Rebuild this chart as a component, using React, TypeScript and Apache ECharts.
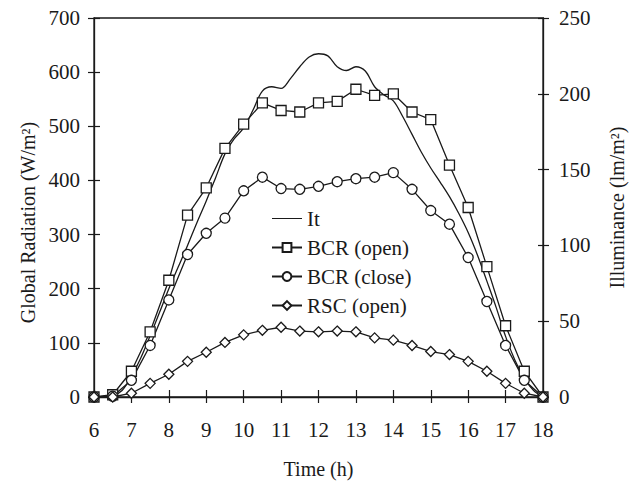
import React, { useEffect, useRef } from "react";
import * as echarts from "echarts";

// Time axis (h)
const halfHourTimes = [6, 6.5, 7, 7.5, 8, 8.5, 9, 9.5, 10, 10.5, 11, 11.5, 12, 12.5, 13, 13.5, 14, 14.5, 15, 15.5, 16, 16.5, 17, 17.5, 18];

// Illuminance series (lm/m2), right axis
const bcrOpen = [0, 1.5, 17, 43, 77, 120, 138, 164, 180, 194, 189, 188, 194, 195, 203, 199, 200, 188, 183, 153, 125, 86, 47, 17, 0];
const bcrClose = [0, 0.5, 11, 34, 64, 94, 108, 118, 136, 145, 137.5, 137, 139, 142, 144, 145, 148, 137, 123, 114, 92, 63, 34, 11, 0];
const rscOpen = [0, 0, 2.5, 9, 15, 23.5, 29.5, 36, 41, 44, 46, 43.5, 43, 43.5, 43, 39, 37.5, 34, 30, 28, 23.5, 17, 9, 2.5, 0];

// Global radiation It (W/m2), left axis, quarter-hour readings
const itTimes = [6, 6.25, 6.5, 6.75, 7, 7.25, 7.5, 7.75, 8, 8.25, 8.5, 8.75, 9, 9.25, 9.5, 9.75, 10, 10.25, 10.5, 10.75, 11, 11.25, 11.5, 11.75, 12, 12.25, 12.5, 12.75, 13, 13.25, 13.5, 13.75, 14, 14.25, 14.5, 14.75, 15, 15.25, 15.5, 15.75, 16, 16.25, 16.5, 16.75, 17, 17.25, 17.5, 17.75, 18];
const itValues = [0, 0, 2, 12, 38, 72, 113, 156, 200, 240, 280, 322, 362, 405, 449, 477, 497, 530, 565, 573, 570, 588, 610, 628, 634, 630, 610, 603, 610, 602, 573, 558, 547, 518, 485, 452, 423, 397, 370, 339, 304, 262, 214, 165, 112, 68, 35, 12, 0];

const xTicks = { min: 6, max: 18, interval: 1 };
const leftTicks = { min: 0, max: 700, interval: 100 };
const rightTicks = { min: 0, max: 250, interval: 50 };

const FONT = "'Liberation Serif', 'Times New Roman', serif";
const INK = "#1a1a1a";

export default function App() {
  const ref = useRef<HTMLDivElement>(null);
  useEffect(() => {
    if (!ref.current) return;
    const chart = echarts.init(ref.current, null, { renderer: "svg" });
    const zip = (xs: number[], ys: number[]) => xs.map((x, i) => [x, ys[i]]);
    const axisLine = { show: true, lineStyle: { color: INK, width: 1.3 } };
    const label = { color: INK, fontSize: 21, fontFamily: FONT };
    const marker = (symbol: string, size: number) => ({
      type: "line",
      yAxisIndex: 1,
      symbol,
      symbolSize: size,
      showAllSymbol: true,
      lineStyle: { color: INK, width: 1.3 },
      itemStyle: { color: "#ffffff", borderColor: INK, borderWidth: 1.3 },
    });
    chart.setOption({
      animation: false,
      backgroundColor: "#ffffff",
      grid: { left: 94, right: 88, top: 18, bottom: 86, show: true, borderColor: INK, borderWidth: 1.3 },
      legend: {
        orient: "vertical",
        left: 266,
        top: 203,
        itemWidth: 30,
        itemHeight: 11,
        itemGap: 8,
        textStyle: { color: INK, fontSize: 21, fontFamily: FONT },
        data: [
          { name: "It", itemStyle: { color: "rgba(0,0,0,0)", borderColor: "rgba(0,0,0,0)", borderWidth: 0 }, lineStyle: { width: 1 } },
          "BCR (open)",
          "BCR (close)",
          "RSC (open)",
        ],
      },
      xAxis: [
        {
          type: "value",
          ...xTicks,
          position: "bottom",
          axisLine,
          axisTick: { show: true, inside: false, length: 6, lineStyle: { color: INK, width: 1.2 } },
          axisLabel: { ...label, margin: 22 },
          splitLine: { show: false },
          name: "Time (h)",
          nameLocation: "middle",
          nameGap: 62,
          nameTextStyle: { color: INK, fontSize: 20, fontFamily: FONT },
        },
        {
          type: "value",
          ...xTicks,
          position: "bottom",
          axisLine: { show: false },
          axisTick: { show: true, inside: true, length: 7, lineStyle: { color: INK, width: 1.2 } },
          axisLabel: { show: false },
          splitLine: { show: false },
        },
      ],
      yAxis: [
        {
          type: "value",
          ...leftTicks,
          position: "left",
          axisLine,
          axisTick: { show: true, inside: false, length: 6, lineStyle: { color: INK, width: 1.2 } },
          axisLabel: { ...label, margin: 14 },
          splitLine: { show: false },
          name: "Global Radiation (W/m²)",
          nameLocation: "middle",
          nameGap: 55,
          nameTextStyle: { color: INK, fontSize: 20, fontFamily: FONT, padding: [0, 30, 0, 0] },
        },
        {
          type: "value",
          ...rightTicks,
          position: "right",
          axisLine,
          axisTick: { show: true, inside: false, length: 6, lineStyle: { color: INK, width: 1.2 } },
          axisLabel: { ...label, margin: 16 },
          splitLine: { show: false },
          name: "Illuminance (lm/m²)",
          nameLocation: "middle",
          nameGap: 64,
          nameRotate: 90,
          nameTextStyle: { color: INK, fontSize: 20, fontFamily: FONT },
        },
        {
          type: "value",
          ...leftTicks,
          position: "left",
          axisLine: { show: false },
          axisTick: { show: true, inside: true, length: 6, lineStyle: { color: INK, width: 1.2 } },
          axisLabel: { show: false },
          splitLine: { show: false },
        },
        {
          type: "value",
          ...rightTicks,
          position: "right",
          axisLine: { show: false },
          axisTick: { show: true, inside: true, length: 5, lineStyle: { color: INK, width: 1.2 } },
          axisLabel: { show: false },
          splitLine: { show: false },
        },
      ],
      series: [
        {
          name: "It",
          type: "line",
          yAxisIndex: 0,
          data: zip(itTimes, itValues),
          symbol: "none",
          smooth: 0.35,
          lineStyle: { color: INK, width: 1.3 },
          itemStyle: { color: INK },
        },
        { name: "BCR (open)", ...marker("rect", 10), data: zip(halfHourTimes, bcrOpen) },
        { name: "BCR (close)", ...marker("circle", 10), data: zip(halfHourTimes, bcrClose) },
        { name: "RSC (open)", ...marker("diamond", 10), data: zip(halfHourTimes, rscOpen) },
      ],
    });
    return () => chart.dispose();
  }, []);
  return (
    <div
      ref={ref}
      style={{ position: "absolute", left: 0, top: 0, width: 635, height: 484, background: "#fff" }}
    />
  );
}
